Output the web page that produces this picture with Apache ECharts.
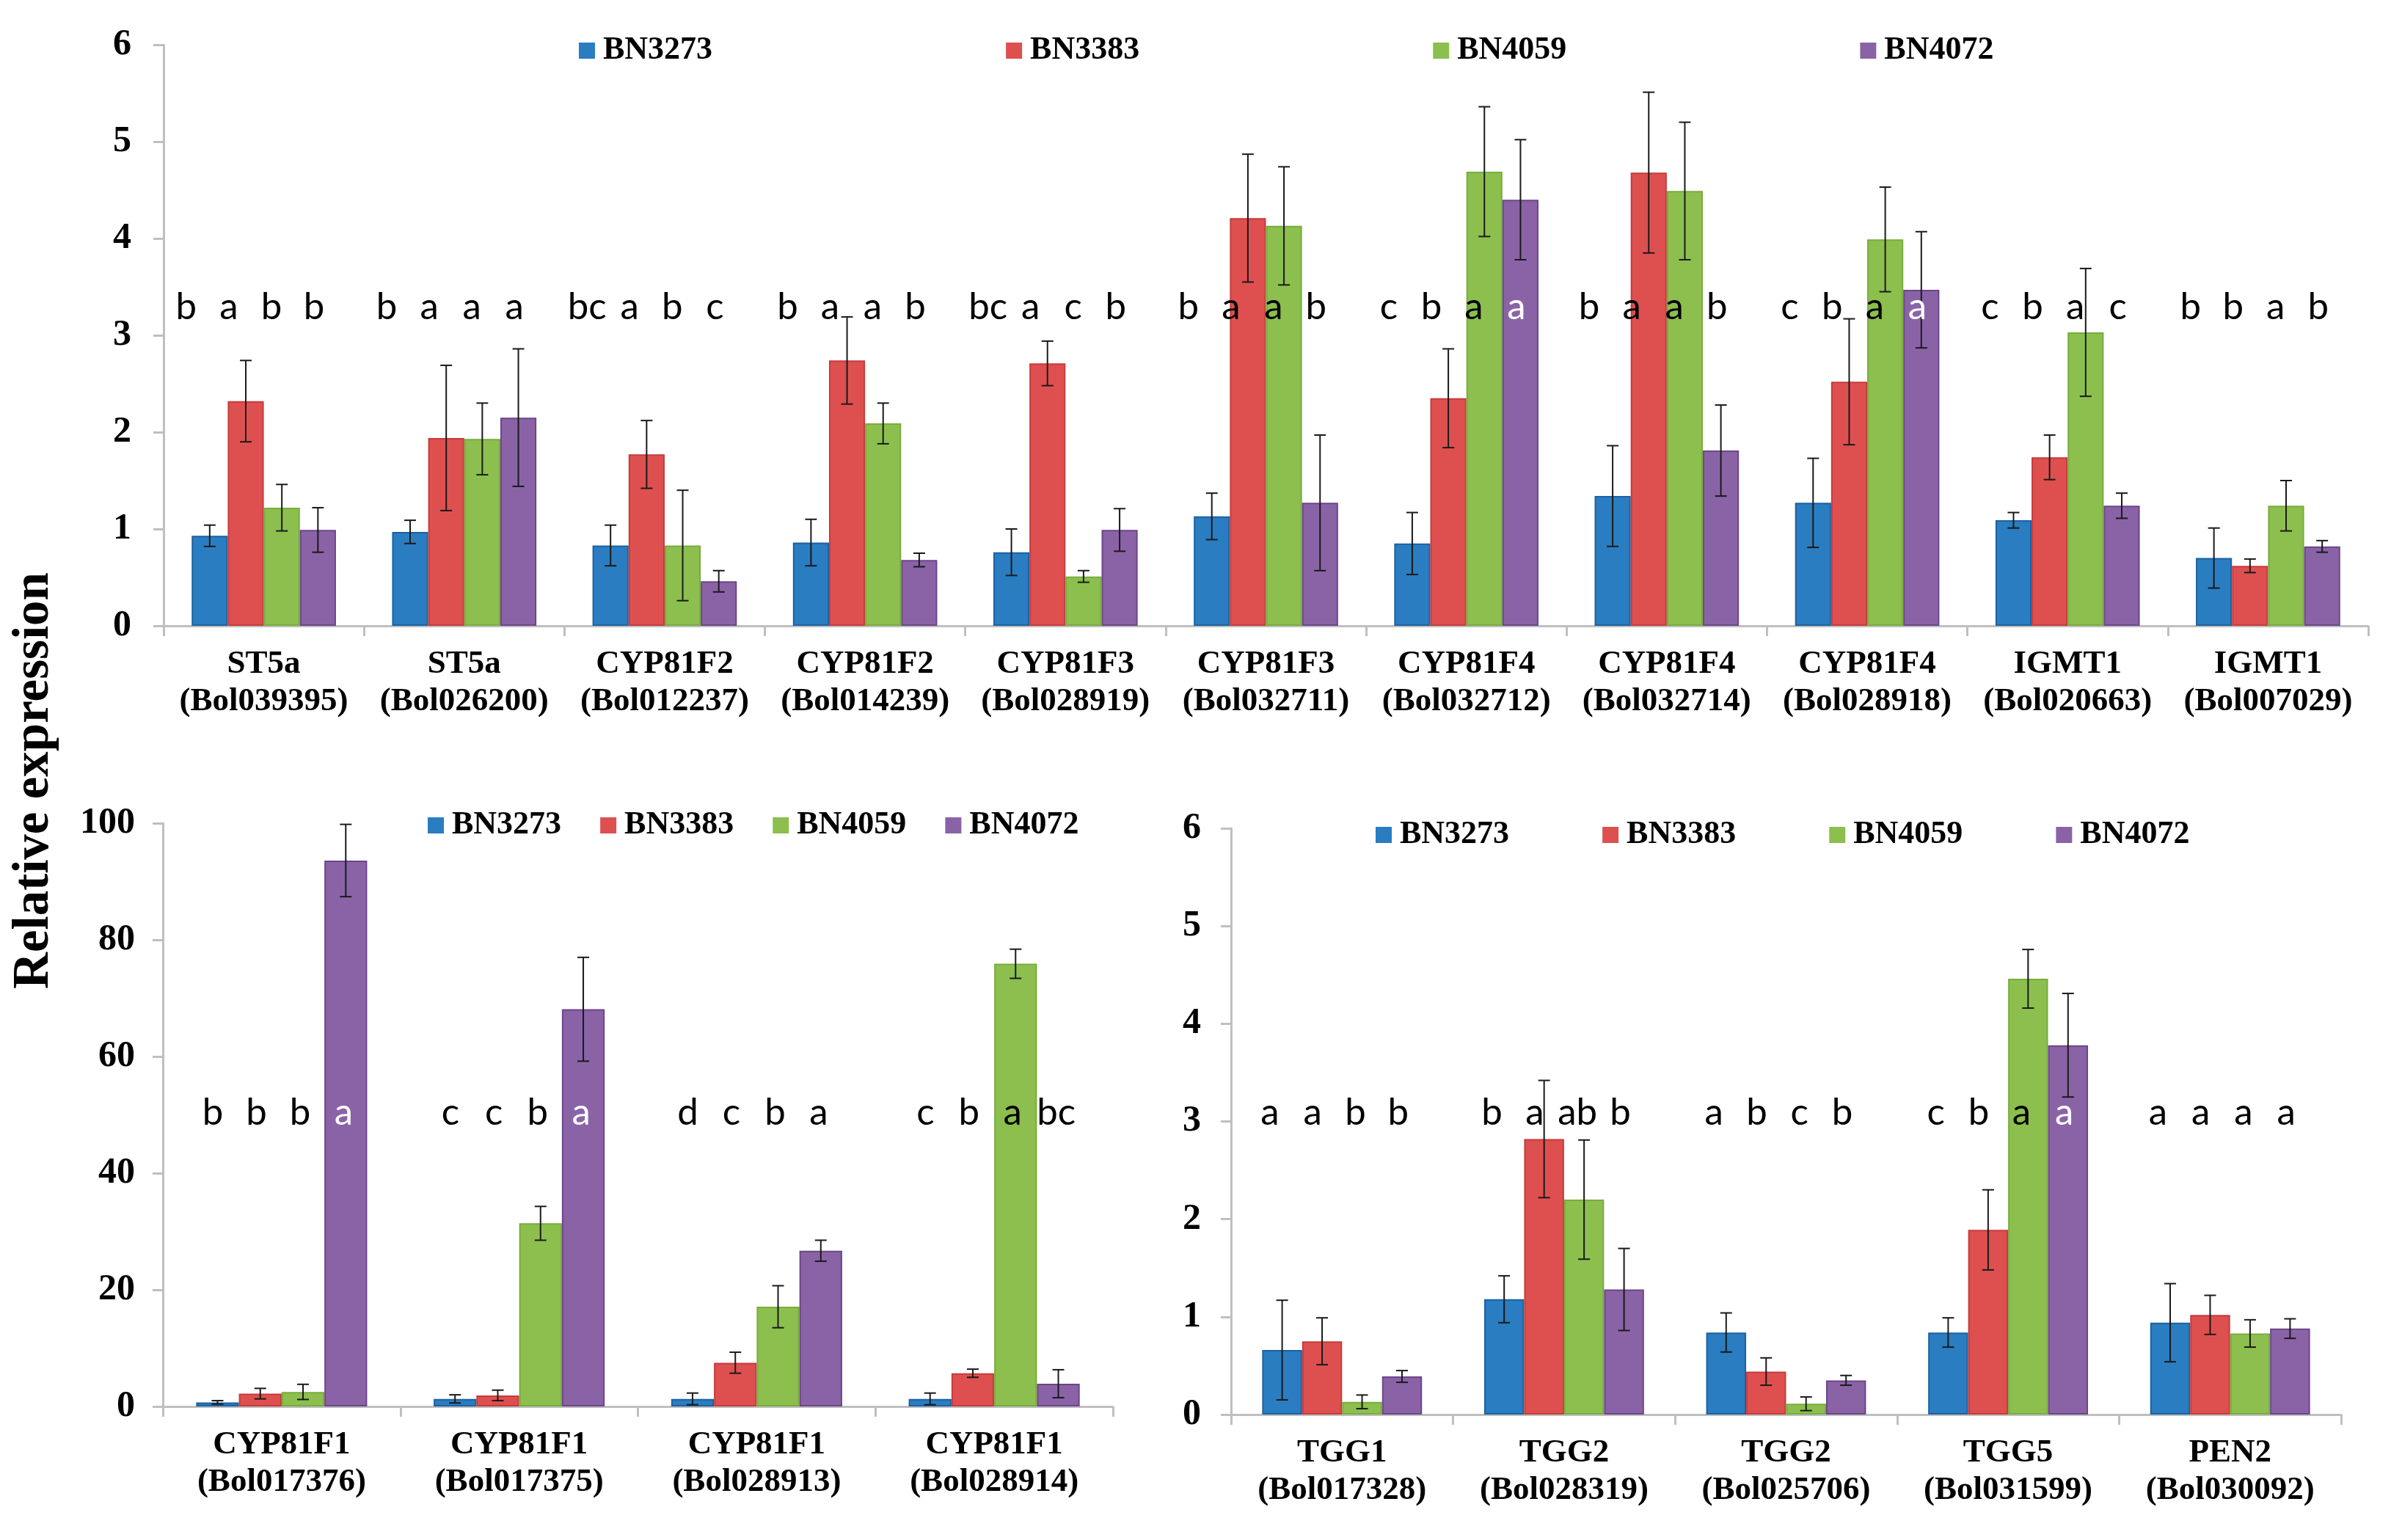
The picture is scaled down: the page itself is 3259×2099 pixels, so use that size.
<!DOCTYPE html>
<html>
<head>
<meta charset="utf-8">
<script src="https://cdn.jsdelivr.net/npm/echarts@6/dist/echarts.min.js"></script>
<style>
html,body{margin:0;padding:0;background:#fff;}
#chart{width:3259px;height:2099px;}
</style>
</head>
<body>
<div id="chart"></div>
<script>
// ---------- DATA ----------
const seriesNames = ['BN3273', 'BN3383', 'BN4059', 'BN4072'];

// Top panel
const catsTop = ['ST5a\n(Bol039395)', 'ST5a\n(Bol026200)', 'CYP81F2\n(Bol012237)', 'CYP81F2\n(Bol014239)',
  'CYP81F3\n(Bol028919)', 'CYP81F3\n(Bol032711)', 'CYP81F4\n(Bol032712)', 'CYP81F4\n(Bol032714)',
  'CYP81F4\n(Bol028918)', 'IGMT1\n(Bol020663)', 'IGMT1\n(Bol007029)'];
const top3273 = [0.93, 0.97, 0.83, 0.86, 0.76, 1.13, 0.85, 1.34, 1.27, 1.09, 0.70];
const top3383 = [2.32, 1.94, 1.77, 2.74, 2.71, 4.21, 2.35, 4.68, 2.52, 1.74, 0.62];
const top4059 = [1.22, 1.93, 0.83, 2.09, 0.51, 4.13, 4.69, 4.49, 3.99, 3.03, 1.24];
const top4072 = [0.99, 2.15, 0.46, 0.68, 0.99, 1.27, 4.40, 1.81, 3.47, 1.24, 0.82];
const topErr3273 = [0.11, 0.12, 0.21, 0.24, 0.24, 0.24, 0.32, 0.52, 0.46, 0.08, 0.31];
const topErr3383 = [0.42, 0.75, 0.35, 0.45, 0.23, 0.66, 0.51, 0.83, 0.65, 0.23, 0.07];
const topErr4059 = [0.24, 0.37, 0.57, 0.21, 0.06, 0.61, 0.67, 0.71, 0.54, 0.66, 0.26];
const topErr4072 = [0.23, 0.71, 0.11, 0.07, 0.22, 0.70, 0.62, 0.47, 0.60, 0.13, 0.06];
const topLetters = [['b','a','b','b'],['b','a','a','a'],['bc','a','b','c'],['b','a','a','b'],
  ['bc','a','c','b'],['b','a','a','b'],['c','b','a','a'],['b','a','a','b'],
  ['c','b','a','a'],['c','b','a','c'],['b','b','a','b']];
const topWhite = [[6,3],[8,3]];
const topYTicks = [0, 6, 1];

// Bottom-left panel
const catsBL = ['CYP81F1\n(Bol017376)', 'CYP81F1\n(Bol017375)', 'CYP81F1\n(Bol028913)', 'CYP81F1\n(Bol028914)'];
const bl3273 = [0.7, 1.3, 1.3, 1.3];
const bl3383 = [2.2, 1.9, 7.5, 5.7];
const bl4059 = [2.5, 31.4, 17.1, 75.9];
const bl4072 = [93.6, 68.1, 26.7, 3.9];
const blErr3273 = [0.3, 0.7, 1.0, 1.0];
const blErr3383 = [0.9, 0.9, 1.8, 0.7];
const blErr4059 = [1.3, 2.9, 3.6, 2.5];
const blErr4072 = [6.2, 8.9, 1.8, 2.4];
const blLetters = [['b','b','b','a'],['c','c','b','a'],['d','c','b','a'],['c','b','a','bc']];
const blWhite = [[0,3],[1,3]];
const blYTicks = [0, 100, 20];

// Bottom-right panel
const catsBR = ['TGG1\n(Bol017328)', 'TGG2\n(Bol028319)', 'TGG2\n(Bol025706)', 'TGG5\n(Bol031599)', 'PEN2\n(Bol030092)'];
const br3273 = [0.66, 1.18, 0.84, 0.84, 0.94];
const br3383 = [0.75, 2.82, 0.44, 1.89, 1.02];
const br4059 = [0.13, 2.20, 0.11, 4.46, 0.83];
const br4072 = [0.39, 1.28, 0.35, 3.78, 0.88];
const brErr3273 = [0.51, 0.24, 0.20, 0.15, 0.40];
const brErr3383 = [0.24, 0.60, 0.14, 0.41, 0.20];
const brErr4059 = [0.07, 0.61, 0.07, 0.30, 0.14];
const brErr4072 = [0.06, 0.42, 0.05, 0.53, 0.10];
const brLetters = [['a','a','b','b'],['b','a','ab','b'],['a','b','c','b'],['c','b','a','a'],['a','a','a','a']];
const brWhite = [[3,3]];
const brYTicks = [0, 6, 1];

const yTitle = 'Relative expression';

// ---------- STYLE ----------
const fills = ['#2A7DC1', '#DE5050', '#8CBF4E', '#8A63A7'];
const borders = ['#1B62A2', '#C73B3B', '#79AC3F', '#6C4589'];
const SERIF = '"Liberation Serif", "Times New Roman", serif';
const SANS = 'Lato, "Open Sans", sans-serif';
const GAP = 0.28;

const panels = [
  { cats: catsTop, vals: [top3273, top3383, top4059, top4072], errs: [topErr3273, topErr3383, topErr4059, topErr4072],
    letters: topLetters, white: topWhite, ticks: topYTicks, letterY: 3.29, spread: 1.18, shift: -0.38,
    grid: { left: 223, top: 61, width: 3005, height: 792 }, yMargin: 44,
    legend: { left: 784, top: 42, itemGap: 400 } },
  { cats: catsBL, vals: [bl3273, bl3383, bl4059, bl4072], errs: [blErr3273, blErr3383, blErr4059, blErr4072],
    letters: blLetters, white: blWhite, ticks: blYTicks, letterY: 50.4, spread: 1.02, shift: -0.08,
    grid: { left: 222, top: 1122, width: 1295, height: 795 }, yMargin: 38,
    legend: { left: 578, top: 1098, itemGap: 53 } },
  { cats: catsBR, vals: [br3273, br3383, br4059, br4072], errs: [brErr3273, brErr3383, brErr4059, brErr4072],
    letters: brLetters, white: brWhite, ticks: brYTicks, letterY: 3.09, spread: 1.07, shift: -0.2,
    grid: { left: 1678, top: 1129, width: 1513, height: 799 }, yMargin: 41,
    legend: { left: 1870, top: 1111, itemGap: 127 } }
];

const axisGray = '#BFBFBF';
const grids = [], xAxes = [], yAxes = [], series = [], legends = [];

panels.forEach((p, pi) => {
  grids.push(Object.assign({ containLabel: false }, p.grid));
  xAxes.push({
    type: 'category', gridIndex: pi, data: p.cats,
    axisLine: { show: true, lineStyle: { color: axisGray, width: 3 } },
    axisTick: { show: true, length: 14, lineStyle: { color: axisGray, width: 3 } },
    axisLabel: { interval: 0, margin: 27, color: '#000', fontFamily: SERIF, fontWeight: 'bold',
      fontSize: 45, lineHeight: 51 },
    splitLine: { show: false }
  });
  yAxes.push({
    type: 'value', gridIndex: pi, min: p.ticks[0], max: p.ticks[1], interval: p.ticks[2],
    axisLine: { show: true, lineStyle: { color: axisGray, width: 3 } },
    axisTick: { show: true, length: 14, lineStyle: { color: axisGray, width: 3 } },
    axisLabel: { margin: p.yMargin, color: '#000', fontFamily: SERIF, fontWeight: 'bold', fontSize: 50 },
    splitLine: { show: false }
  });
  legends.push({
    data: seriesNames, left: p.legend.left, top: p.legend.top, itemGap: p.legend.itemGap,
    orient: 'horizontal', icon: 'rect', itemWidth: 22, itemHeight: 22,
    itemStyle: { borderWidth: 0 },
    textStyle: { fontFamily: SERIF, fontWeight: 'bold', fontSize: 44, color: '#000', padding: [0, 0, 0, 6] },
    selectedMode: false
  });
  seriesNames.forEach((n, si) => {
    series.push({
      name: n, type: 'bar', xAxisIndex: pi, yAxisIndex: pi, data: p.vals[si],
      barGap: '0%', barCategoryGap: (GAP * 100) + '%',
      itemStyle: { color: fills[si], borderColor: borders[si], borderWidth: 2 },
      emphasis: { disabled: true }, z: 2
    });
  });
  const items = [];
  p.cats.forEach((c, ci) => {
    for (let si = 0; si < 4; si++) items.push([ci, p.vals[si][ci], p.errs[si][ci], si]);
  });
  series.push({
    type: 'custom', xAxisIndex: pi, yAxisIndex: pi, data: items, z: 5, silent: true,
    encode: { x: 0, y: 1 },
    renderItem: function (params, api) {
      const ci = api.value(0), v = api.value(1), e = api.value(2), si = api.value(3);
      const catW = api.size([1, 0])[0];
      const bw = catW * (1 - GAP) / 4;
      const base = api.coord([ci, 0]);
      const cx = base[0] + (si - 1.5) * bw;
      const yT = api.coord([ci, v + e])[1];
      const yB = api.coord([ci, Math.max(v - e, 0)])[1];
      const cap = 8;
      const ls = { stroke: '#1a1a1a', lineWidth: 2 };
      const isWhite = p.white.some(w => w[0] === ci && w[1] === si);
      const lx = base[0] + ((si - 1.5) * p.spread + p.shift) * bw;
      const ly = api.coord([ci, p.letterY])[1];
      return {
        type: 'group',
        children: [
          { type: 'line', shape: { x1: cx, y1: yT, x2: cx, y2: yB }, style: ls },
          { type: 'line', shape: { x1: cx - cap, y1: yT, x2: cx + cap, y2: yT }, style: ls },
          { type: 'line', shape: { x1: cx - cap, y1: yB, x2: cx + cap, y2: yB }, style: ls },
          { type: 'text', x: lx, y: ly, z2: 10,
            style: { text: p.letters[ci][si], fill: isWhite ? '#ffffff' : '#000000',
              font: '51px ' + SANS, align: 'center', verticalAlign: 'middle',
              textAlign: 'center', textVerticalAlign: 'middle' } }
        ]
      };
    }
  });
});

const chart = echarts.init(document.getElementById('chart'), null, { renderer: 'canvas' });
chart.setOption({
  backgroundColor: '#ffffff',
  animation: false,
  grid: grids, xAxis: xAxes, yAxis: yAxes, legend: legends, series: series,
  graphic: [{
    type: 'text', x: 47, y: 1064, rotation: Math.PI / 2,
    style: { text: yTitle, font: 'bold 69px ' + SERIF, fill: '#000',
      align: 'center', verticalAlign: 'middle', textAlign: 'center', textVerticalAlign: 'middle' }
  }]
});
</script>
</body>
</html>
